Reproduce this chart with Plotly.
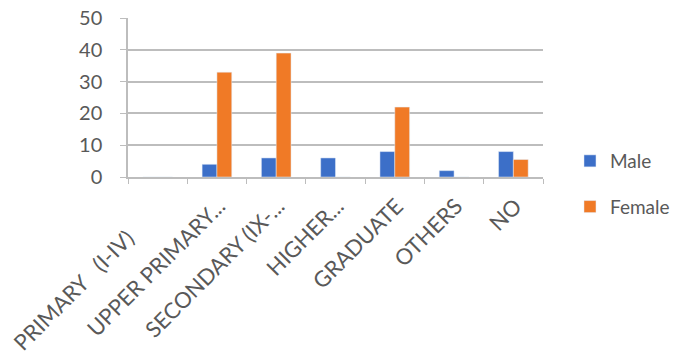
import plotly.graph_objects as go

categories = [
    "PRIMARY\u00a0\u00a0\u00a0(I-IV)" + "\u00a0" * 8,
    "UPPER PRIMARY...",
    "SECONDARY (IX-...",
    "HIGHER...",
    "GRADUATE",
    "OTHERS",
    "NO",
]
male = [0, 4, 6, 6, 8, 2, 8]
female = [0, 33, 39, 0, 22, 0, 5.5]
y_ticks = [0, 10, 20, 30, 40, 50]

GRID = "#bdbdbd"
TEXT = "#595959"

fig = go.Figure()
fig.add_trace(go.Bar(name="Male", x=categories, y=male,
                     marker_color="#3c6fc8", legendgroup="m"))
fig.add_trace(go.Bar(name="Female", x=categories, y=female,
                     marker_color="#f07a26", legendgroup="f"))

fig.update_layout(
    width=689,
    height=358,
    margin=dict(l=128, r=146, t=18, b=181),
    paper_bgcolor="white",
    plot_bgcolor="white",
    barmode="group",
    bargap=0.5,
    bargroupgap=0,
    font=dict(family="Lato", size=18, color=TEXT),
    legend=dict(
        x=1.065, y=0.22, xanchor="left", yanchor="top",
        font=dict(size=19, color=TEXT),
        tracegroupgap=18,
        traceorder="grouped",
    ),
    xaxis=dict(
        automargin=False,
        tickangle=-45,
        showgrid=False,
        showline=True,
        linecolor=GRID,
        linewidth=1.5,
        ticks="outside",
        tickson="boundaries",
        ticklen=5,
        tickcolor=GRID,
        ticklabelstandoff=6,
        ticklabelshift=2,
        tickfont=dict(size=22, color=TEXT),
    ),
    yaxis=dict(
        automargin=False,
        range=[0, 50.05],
        tickvals=y_ticks,
        showgrid=True,
        gridcolor=GRID,
        gridwidth=1.5,
        showline=True,
        linecolor=GRID,
        linewidth=1.5,
        ticks="outside",
        ticklen=6,
        tickcolor=GRID,
        ticklabelstandoff=14,
        ticklabeloverflow="allow",
        zeroline=False,
        tickfont=dict(size=20, color=TEXT),
    ),
)

# drop the browser's default 8px body margin so the figure sits at 0,0
fig.write_html(
    "out.html",
    config={"displayModeBar": False},
    post_script="document.body.style.margin = '0';",
)
